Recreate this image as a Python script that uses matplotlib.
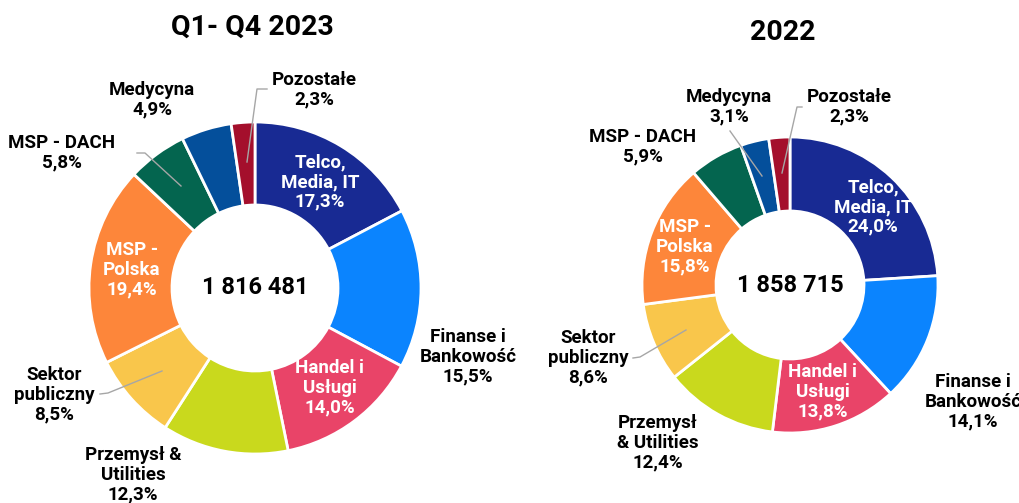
import matplotlib.pyplot as plt

plt.rcParams['font.family'] = ['Roboto', 'DejaVu Sans']

colors = ['#182a93', '#0b84fe', '#e94468', '#c9d91d', '#f9c64b',
          '#fd863a', '#04654f', '#044f9b', '#a40f2c']

values_2023 = [17.3, 15.5, 14.0, 12.3, 8.5, 19.4, 5.8, 4.9, 2.3]
values_2022 = [24.0, 14.1, 13.8, 12.4, 8.6, 15.8, 5.9, 3.1, 2.3]

names_2023 = ['Telco,\nMedia, IT', 'Finanse i\nBankowość', 'Handel i\nUsługi',
              'Przemysł &\nUtilities', 'Sektor\npubliczny', 'MSP -\nPolska',
              'MSP - DACH', 'Medycyna', 'Pozostałe']
names_2022 = ['Telco,\nMedia, IT', 'Finanse i\nBankowość', 'Handel i\nUsługi',
              'Przemysł\n& Utilities', 'Sektor\npubliczny', 'MSP -\nPolska',
              'MSP - DACH', 'Medycyna', 'Pozostałe']

titles = ['Q1- Q4 2023', '2022']
totals = ['1 816 481', '1 858 715']

# layout in pixels (x right, y down)
centers = [(255, 288), (790, 285)]
radii = [166, 148]
title_pos = [(252, 27), (783, 32)]
label_pos_2023 = [(320, 182), (468, 357), (330, 388), (133, 475), (54, 395),
                  (132, 270), (62, 153), (152, 100), (314, 90)]
label_pos_2022 = [(873, 207), (973, 402), (823, 392), (658, 443), (588, 358),
                  (685, 247), (643, 147), (729, 107), (849, 107)]
white_labels = [0, 2, 5]
leaders = [
    [[(100, 394), (108, 393), (162, 371)],
     [(137, 153), (145, 153), (181, 186)],
     [(267, 89), (257, 89), (247, 162)]],
    [[(633, 358), (640, 357), (686, 330)],
     [(730, 131), (762, 176)],
     [(802, 107), (797, 107), (782, 173)]],
]

fig = plt.figure(figsize=(10.2, 5.03), dpi=100)
ax = fig.add_axes([0, 0, 1, 1])

charts = [(values_2023, names_2023, label_pos_2023),
          (values_2022, names_2022, label_pos_2022)]

for i, (vals, names, lpos) in enumerate(charts):
    r = radii[i]
    ax.pie(vals, colors=colors, center=centers[i], radius=r,
           startangle=-90, counterclock=True,
           wedgeprops=dict(width=r * 0.5, edgecolor='white', linewidth=2))
    ax.text(*title_pos[i], titles[i], ha='center', va='center',
            fontsize=20.5, fontweight='bold')
    ax.text(*centers[i], totals[i], ha='center', va='center',
            fontsize=17, fontweight='bold')
    for j, (name, v) in enumerate(zip(names, vals)):
        txt = name + '\n' + f'{v:.1f}'.replace('.', ',') + '%'
        ax.text(*lpos[j], txt, ha='center', va='center', fontsize=13.5,
                fontweight='bold', linespacing=1.12,
                color='white' if j in white_labels else 'black')
    for line in leaders[i]:
        xs, ys = zip(*line)
        ax.plot(xs, ys, color='#a6a6a6', lw=1)

ax.set_xlim(0, 1020)
ax.set_ylim(503, 0)
ax.set_aspect('auto')
ax.axis('off')

fig.savefig('out.png', dpi=100)
